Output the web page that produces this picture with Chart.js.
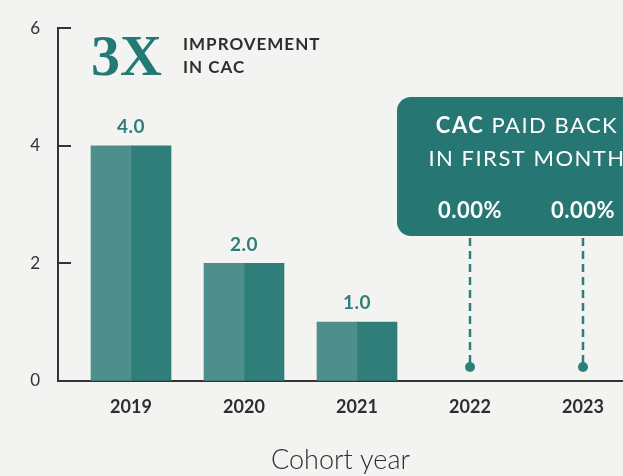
<!DOCTYPE html>
<html><head><meta charset="utf-8">
<script src="https://cdn.jsdelivr.net/npm/chart.js@4/dist/chart.umd.min.js"></script>
<style>html,body{margin:0;padding:0;background:#f3f3f1;overflow:hidden}#wrap{width:623px;height:476px;position:relative}</style>
</head><body><div id="wrap"><canvas id="c" width="623" height="476"></canvas></div>
<script>
const cohortYears = ['2019', '2020', '2021', '2022', '2023'];
const cacValues = [4.0, 2.0, 1.0, null, null];
const paidBackFirstMonth = [null, null, null, 0.00, 0.00];
const yTickValues = [0, 2, 4, 6];
const headlineBig = '3X';
const headlineSmall = ['IMPROVEMENT', 'IN CAC'];
const boxTitleBold = 'CAC';
const boxTitleRest = ' PAID BACK';
const boxTitleLine2 = 'IN FIRST MONTH';
const xAxisTitle = 'Cohort year';

const SANS = 'Lato, "Open Sans", "DejaVu Sans", sans-serif';
const TEAL_LIGHT = '#4f8f8b';
const TEAL_DARK = '#2f7e7a';
const TEAL_BOX = '#267773';
const TEXT_DARK = '#2e2e2e';

const points = cacValues.map((v, i) => ({x: i, y: v})).filter(p => p.y !== null);

const decorations = {
  id: 'decorations',
  afterDraw(chart) {
    const ctx = chart.ctx;
    const xs = chart.scales.x, ys = chart.scales.y;
    const area = chart.chartArea;
    ctx.save();
    // inward y tick marks
    ctx.strokeStyle = '#333';
    ctx.lineWidth = 2;
    yTickValues.forEach(v => {
      const y = Math.round(ys.getPixelForValue(v));
      ctx.beginPath();
      ctx.moveTo(area.left, y);
      ctx.lineTo(area.left + 13, y);
      ctx.stroke();
    });
    // value labels
    ctx.fillStyle = TEAL_DARK;
    ctx.font = 'bold 19px ' + SANS;
    ctx.letterSpacing = '0.5px';
    ctx.textAlign = 'center';
    ctx.textBaseline = 'middle';
    cacValues.forEach((v, i) => {
      if (v === null) return;
      ctx.fillText(v.toFixed(1), xs.getPixelForValue(i), ys.getPixelForValue(v) - 19);
    });
    // headline
    ctx.letterSpacing = '0px';
    ctx.fillStyle = '#237a75';
    ctx.font = 'bold 58px "Liberation Serif", serif';
    ctx.textAlign = 'left';
    ctx.textBaseline = 'alphabetic';
    ctx.fillText(headlineBig, 91, 75);
    ctx.fillStyle = TEXT_DARK;
    ctx.font = 'bold 17px ' + SANS;
    ctx.letterSpacing = '1px';
    ctx.textBaseline = 'middle';
    ctx.fillText(headlineSmall[0], 183, 45);
    ctx.fillText(headlineSmall[1], 183, 68);
    // box
    ctx.fillStyle = TEAL_BOX;
    ctx.beginPath();
    ctx.roundRect(397, 97, 280, 139, 14);
    ctx.fill();
    ctx.fillStyle = '#ffffff';
    ctx.letterSpacing = '1.5px';
    ctx.font = 'bold 22px ' + SANS;
    const wB = ctx.measureText(boxTitleBold).width;
    ctx.font = '22px ' + SANS;
    const wR = ctx.measureText(boxTitleRest).width;
    const cx = 527;
    let sx = cx - (wB + wR) / 2;
    ctx.textAlign = 'left';
    ctx.font = 'bold 22px ' + SANS;
    ctx.fillText(boxTitleBold, sx, 126);
    ctx.font = '22px ' + SANS;
    ctx.fillText(boxTitleRest, sx + wB, 126);
    ctx.textAlign = 'center';
    ctx.fillText(boxTitleLine2, cx, 159);
    ctx.font = 'bold 22px ' + SANS;
    ctx.letterSpacing = '0.5px';
    paidBackFirstMonth.forEach((v, i) => {
      if (v === null) return;
      const px = xs.getPixelForValue(i);
      ctx.fillStyle = '#ffffff';
      ctx.fillText(v.toFixed(2) + '%', px, 211);
      // dashed connector & dot
      const dotY = ys.getPixelForValue(v) - 14;
      ctx.strokeStyle = TEAL_DARK;
      ctx.lineWidth = 2.5;
      ctx.setLineDash([8, 5]);
      ctx.beginPath();
      ctx.moveTo(px, 238);
      ctx.lineTo(px, dotY);
      ctx.stroke();
      ctx.setLineDash([]);
      ctx.fillStyle = TEAL_DARK;
      ctx.beginPath();
      ctx.arc(px, dotY, 5, 0, Math.PI * 2);
      ctx.fill();
    });
    ctx.restore();
  }
};

const bg = {
  id: 'bg',
  beforeDraw(chart) {
    const ctx = chart.ctx;
    ctx.save();
    ctx.fillStyle = '#f3f3f1';
    ctx.fillRect(0, 0, chart.width, chart.height);
    ctx.restore();
  }
};

new Chart(document.getElementById('c'), {
  type: 'bar',
  data: {
    datasets: [
      {label: 'CAC (left shade)', data: points, backgroundColor: TEAL_LIGHT, barThickness: 40, borderWidth: 0},
      {label: 'CAC (right shade)', data: points, backgroundColor: TEAL_DARK, barThickness: 40, borderWidth: 0}
    ]
  },
  options: {
    responsive: false,
    animation: false,
    devicePixelRatio: 1,
    layout: {padding: {top: 24, left: 0, right: 0, bottom: 0}},
    plugins: {legend: {display: false}, tooltip: {enabled: false}},
    scales: {
      x: {
        type: 'linear',
        offset: false,
        min: -0.646,
        max: 4.354,
        afterBuildTicks: s => { s.ticks = cohortYears.map((_, i) => ({value: i})); },
        afterFit: s => { s.height = 95; },
        ticks: {
          callback: v => cohortYears[v],
          color: TEXT_DARK,
          font: {family: SANS, size: 18, weight: 'bold'},
          padding: 15,
          maxRotation: 0,
          autoSkip: false
        },
        grid: {offset: false, drawOnChartArea: false, drawTicks: false},
        border: {color: '#333', width: 2},
        title: {display: true, text: xAxisTitle, color: TEXT_DARK, font: {family: SANS, size: 27, weight: 300}, padding: {top: 0, bottom: 0}}
      },
      y: {
        min: 0,
        max: 6,
        afterBuildTicks: s => { s.ticks = yTickValues.map(v => ({value: v})); },
        afterFit: s => { s.width = 58; },
        ticks: {color: '#333', font: {family: SANS, size: 17}, padding: 18},
        grid: {drawOnChartArea: false, drawTicks: false},
        border: {color: '#333', width: 2}
      }
    }
  },
  plugins: [bg, decorations]
});
</script>
</body></html>
